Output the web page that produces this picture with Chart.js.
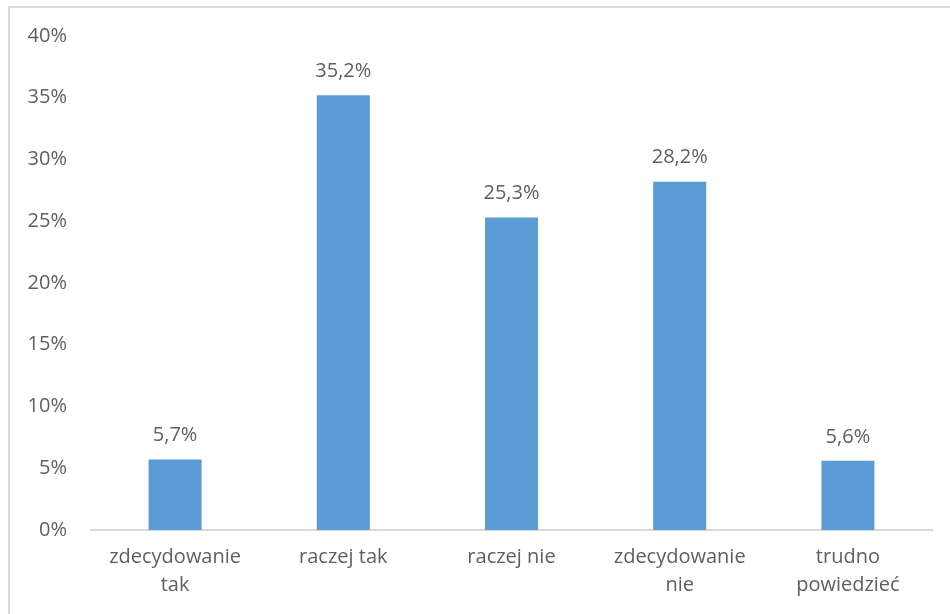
<!DOCTYPE html>
<html>
<head>
<meta charset="utf-8">
<script src="https://cdn.jsdelivr.net/npm/chart.js@4/dist/chart.umd.min.js"></script>
<style>
  html, body { margin: 0; padding: 0; background: #ffffff; }
  #wrap { width: 950px; height: 614px; position: relative; }
</style>
</head>
<body>
<div id="wrap"><canvas id="c" width="950" height="614"></canvas></div>
<script>
const categories = [["zdecydowanie", "tak"], "raczej tak", "raczej nie", ["zdecydowanie", "nie"], ["trudno", "powiedzieć"]];
const values = [5.7, 35.2, 25.3, 28.2, 5.6];
const yTicks = [0, 5, 10, 15, 20, 25, 30, 35, 40];

const FONT = "'Open Sans', 'Noto Sans', sans-serif";
const TEXT = "#5f5f5f";

const frame = {
  id: 'frame',
  beforeDraw(chart) {
    const ctx = chart.ctx;
    ctx.save();
    ctx.fillStyle = '#ffffff';
    ctx.fillRect(0, 0, chart.width, chart.height);
    ctx.strokeStyle = '#dadada';
    ctx.lineWidth = 2;
    ctx.beginPath();
    ctx.moveTo(9, chart.height);
    ctx.lineTo(9, 7);
    ctx.lineTo(chart.width, 7);
    ctx.stroke();
    ctx.restore();
  }
};

const valueLabels = {
  id: 'valueLabels',
  afterDatasetsDraw(chart) {
    const ctx = chart.ctx;
    const meta = chart.getDatasetMeta(0);
    ctx.save();
    ctx.font = "20px " + FONT;
    ctx.fillStyle = TEXT;
    ctx.textAlign = 'center';
    ctx.textBaseline = 'middle';
    meta.data.forEach((bar, i) => {
      const txt = values[i].toFixed(1).replace('.', ',') + '%';
      ctx.fillText(txt, bar.x, bar.y - 24);
    });
    ctx.restore();
  }
};

new Chart(document.getElementById('c'), {
  type: 'bar',
  data: {
    labels: categories,
    datasets: [{
      data: values,
      backgroundColor: '#5b9bd5',
      borderWidth: 0,
      barPercentage: 0.315,
      categoryPercentage: 1.0
    }]
  },
  options: {
    responsive: false,
    animation: false,
    devicePixelRatio: 1,
    layout: { padding: { top: 35, right: 18, left: 0, bottom: 0 } },
    plugins: {
      legend: { display: false },
      tooltip: { enabled: false }
    },
    scales: {
      x: {
        grid: { display: false, drawTicks: false },
        border: { display: true, color: '#d9d9d9', width: 2 },
        ticks: {
          color: TEXT,
          font: { family: FONT, size: 20, lineHeight: 1.4 },
          padding: 13,
          maxRotation: 0,
          autoSkip: false
        },
        afterFit(scale) { scale.height = 84; }
      },
      y: {
        min: 0,
        max: 40,
        afterBuildTicks(scale) { scale.ticks = yTicks.map(v => ({ value: v })); },
        grid: { display: false, drawTicks: false },
        border: { display: false },
        ticks: {
          color: TEXT,
          font: { family: FONT, size: 20 },
          padding: 24,
          callback: v => v + '%'
        },
        afterFit(scale) { scale.width = 91; }
      }
    }
  },
  plugins: [frame, valueLabels]
});
</script>
</body>
</html>
